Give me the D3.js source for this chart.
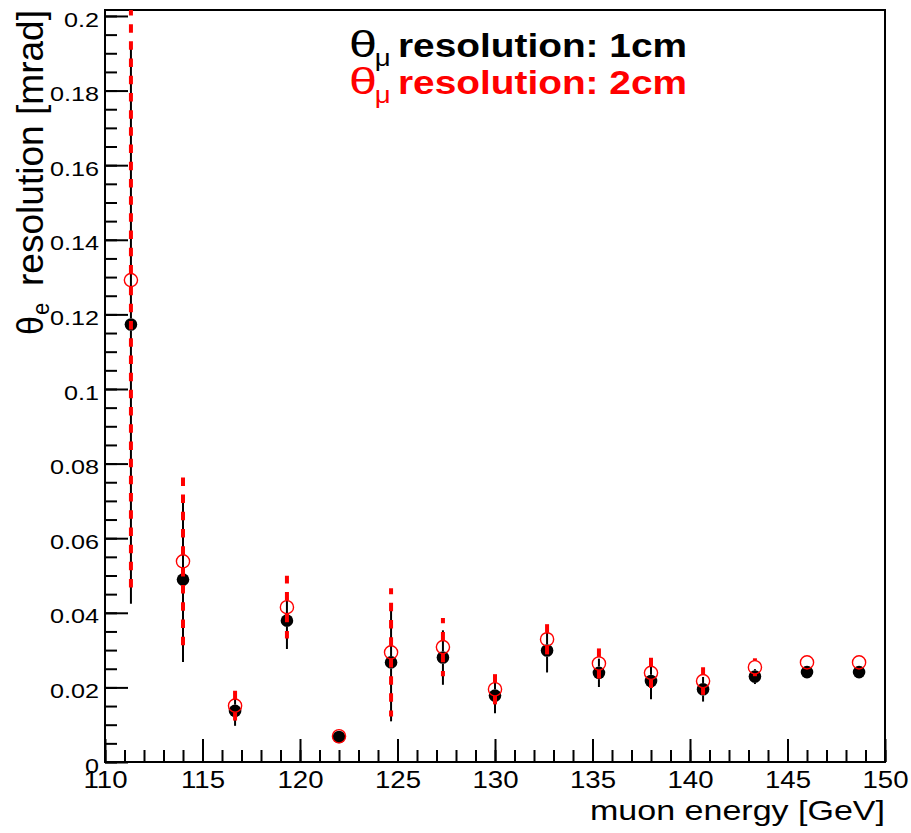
<!DOCTYPE html>
<html>
<head>
<meta charset="utf-8">
<script src="https://cdn.jsdelivr.net/npm/d3@7"></script>
<style>
  body { margin: 0; background: #fff; }
  text { font-family: "Liberation Sans", Arial, sans-serif; }
</style>
</head>
<body>
<div id="container"></div>
<script>
/* CONSTANTS AND GLOBALS */
const width = 911,
  height = 833,
  margin = { top: 10, bottom: 71, left: 105, right: 26 };

// muon energy bin centres [GeV]
const energy = [111.33, 114, 116.67, 119.33, 122, 124.67, 127.33, 130, 132.67, 135.33, 138, 140.67, 143.33, 146, 148.67];
// theta_mu resolution 1cm (black)
const res1cm = [0.1173, 0.0489, 0.0137, 0.0379, 0.0067, 0.0267, 0.0280, 0.0178, 0.0299, 0.0239, 0.0217, 0.0195, 0.0229, 0.0241, 0.0241];
const err1cm = [0.0749, 0.0221, 0.0040, 0.0076, 0.0000, 0.0158, 0.0073, 0.0047, 0.0059, 0.0038, 0.0049, 0.0033, 0.0020, 0.0000, 0.0000];
// theta_mu resolution 2cm (red)
const res2cm = [0.1292, 0.0538, 0.0151, 0.0415, 0.0069, 0.0294, 0.0308, 0.0195, 0.0329, 0.0264, 0.0239, 0.0217, 0.0254, 0.0267, 0.0267];
const err2cm = [0.0825, 0.0235, 0.0040, 0.0084, 0.0000, 0.0172, 0.0078, 0.0044, 0.0045, 0.0044, 0.0047, 0.0037, 0.0024, 0.0000, 0.0000];

const xTicks = [110, 115, 120, 125, 130, 135, 140, 145, 150];
const yTicks = [0, 0.02, 0.04, 0.06, 0.08, 0.1, 0.12, 0.14, 0.16, 0.18, 0.2];
const legendLabels = ["resolution: 1cm", "resolution: 2cm"];
const legendColors = ["#000", "#ff0000"];

const xTitle = "muon energy [GeV]";
const yTitle = " resolution [mrad]";

const stretch = 1.2; // the ROOT picture is wider than tall

/* SCALES */
const xScale = d3.scaleLinear()
  .domain([110, 150])
  .range([margin.left, width - margin.right]);

const yScale = d3.scaleLinear()
  .domain([0, 0.2016])
  .range([height - margin.bottom, margin.top]);

const svg = d3.select("#container")
  .append("svg")
  .attr("width", width)
  .attr("height", height);

svg.append("defs").append("clipPath")
  .attr("id", "frame-clip")
  .append("rect")
  .attr("x", margin.left)
  .attr("y", margin.top)
  .attr("width", width - margin.left - margin.right)
  .attr("height", height - margin.top - margin.bottom);

// + AXES (ticks inside the frame, ROOT style)
const xMinor = d3.range(110, 151, 1);
const yMinor = d3.range(0, 0.2001, 0.005);

const xAxisMinor = d3.axisBottom(xScale).tickValues(xMinor).tickSize(-12).tickFormat("");
const xAxis = d3.axisBottom(xScale).tickValues(xTicks).tickSize(-23).tickPadding(10).tickFormat(d3.format("d"));
const yAxisMinor = d3.axisLeft(yScale).tickValues(yMinor).tickSize(-12).tickFormat("");
const yAxis = d3.axisLeft(yScale).tickValues(yTicks).tickSize(-23).tickPadding(6).tickFormat(d => d === 0 ? "0" : String(+d.toFixed(2)));

function styleAxis(g) {
  g.select(".domain").remove();
  g.selectAll("line").attr("stroke", "#000").attr("stroke-width", 2);
}

svg.append("g")
  .attr("transform", `translate(0, ${height - margin.bottom})`)
  .call(xAxisMinor).call(styleAxis);

const xAxisGroup = svg.append("g")
  .attr("transform", `translate(0, ${height - margin.bottom})`)
  .call(xAxis).call(styleAxis);

xAxisGroup.selectAll("text")
  .attr("font-size", 23)
  .attr("fill", "#000")
  .attr("transform", `scale(${stretch},1)`);

svg.append("g")
  .attr("transform", `translate(${margin.left}, 0)`)
  .call(yAxisMinor).call(styleAxis);

const yAxisGroup = svg.append("g")
  .attr("transform", `translate(${margin.left}, 0)`)
  .call(yAxis).call(styleAxis);

yAxisGroup.selectAll("text")
  .attr("font-size", 21)
  .attr("fill", "#000")
  .attr("x", -5)
  .attr("dy", "0.48em")
  .attr("transform", `scale(${stretch},1)`);

// frame
svg.append("rect")
  .attr("x", margin.left)
  .attr("y", margin.top)
  .attr("width", width - margin.left - margin.right)
  .attr("height", height - margin.top - margin.bottom)
  .attr("fill", "none")
  .attr("stroke", "#000")
  .attr("stroke-width", 2);

// + AXIS TITLES
svg.append("text")
  .attr("transform", `translate(${width - margin.right}, 820)`)
  .attr("text-anchor", "end")
  .attr("font-size", 28)
  .attr("fill", "#000")
  .attr("textLength", 295)
  .attr("lengthAdjust", "spacingAndGlyphs")
  .text(xTitle);

const yTitleGroup = svg.append("g")
  .attr("transform", `translate(43, 10) rotate(-90) scale(1, 1.1)`);

yTitleGroup.append("text")
  .attr("text-anchor", "end")
  .attr("font-size", 33)
  .attr("fill", "#000")
  .attr("textLength", 276)
  .attr("lengthAdjust", "spacingAndGlyphs")
  .text(yTitle);

yTitleGroup.append("text")
  .attr("x", -325)
  .attr("text-anchor", "start")
  .attr("font-size", 34)
  .attr("fill", "#000")
  .text("θ");

yTitleGroup.append("text")
  .attr("x", -305)
  .attr("y", 5)
  .attr("text-anchor", "start")
  .attr("font-size", 22)
  .attr("fill", "#000")
  .text("e");

// + DATA
const pts1 = energy.map((e, i) => ({ x: e, y: res1cm[i], err: err1cm[i] }));
const pts2 = energy.map((e, i) => ({ x: e, y: res2cm[i], err: err2cm[i] }));

const plot = svg.append("g").attr("clip-path", "url(#frame-clip)");

function drawSeries(pts, cls, color, r, dash, lineWidth, filled) {
  // error bars start at the marker edge
  const segs = [];
  pts.forEach(d => {
    if (d.err <= 0) return;
    const cx = xScale(d.x), cy = yScale(d.y);
    const top = yScale(d.y + d.err), bot = yScale(d.y - d.err);
    if (cy - r > top) segs.push({ x: cx, y1: cy - r, y2: top });
    if (cy + r < bot) segs.push({ x: cx, y1: cy + r, y2: bot });
  });

  plot.selectAll(".bar-" + cls)
    .data(segs)
    .join("line")
    .attr("class", "bar-" + cls)
    .attr("x1", d => d.x)
    .attr("x2", d => d.x)
    .attr("y1", d => d.y1)
    .attr("y2", d => d.y2)
    .attr("stroke", color)
    .attr("stroke-width", lineWidth)
    .attr("stroke-dasharray", dash);

  plot.selectAll(".pt-" + cls)
    .data(pts)
    .join("circle")
    .attr("class", "pt-" + cls)
    .attr("cx", d => xScale(d.x))
    .attr("cy", d => yScale(d.y))
    .attr("r", r)
    .attr("fill", filled ? color : "none")
    .attr("stroke", color)
    .attr("stroke-width", filled ? 0 : 1.4);
}

drawSeries(pts1, "a", "#000", 6.3, null, 2, true);
drawSeries(pts2, "b", "#ff0000", 6.6, "8.5,8.7", 4, false);

// + LEGEND TEXT
const legend = svg.selectAll(".legend")
  .data(legendLabels)
  .join("g")
  .attr("class", "legend")
  .attr("transform", (d, i) => `translate(349, ${57 + i * 37})`);

legend.append("text")
  .attr("font-family", "'Liberation Serif', 'DejaVu Serif', serif")
  .attr("font-size", 36)
  .attr("transform", "scale(1.4,1)")
  .attr("fill", (d, i) => legendColors[i])
  .text("θ");

legend.append("text")
  .attr("x", 21.5)
  .attr("y", 9)
  .attr("font-family", "'Liberation Serif', 'DejaVu Serif', serif")
  .attr("font-size", 23)
  .attr("transform", "scale(1.2,1)")
  .attr("fill", (d, i) => legendColors[i])
  .text("μ");

legend.append("text")
  .attr("x", 49)
  .attr("font-size", 33)
  .attr("font-weight", "bold")
  .attr("fill", (d, i) => legendColors[i])
  .attr("textLength", 289)
  .attr("lengthAdjust", "spacingAndGlyphs")
  .text(d => d);
</script>
</body>
</html>
